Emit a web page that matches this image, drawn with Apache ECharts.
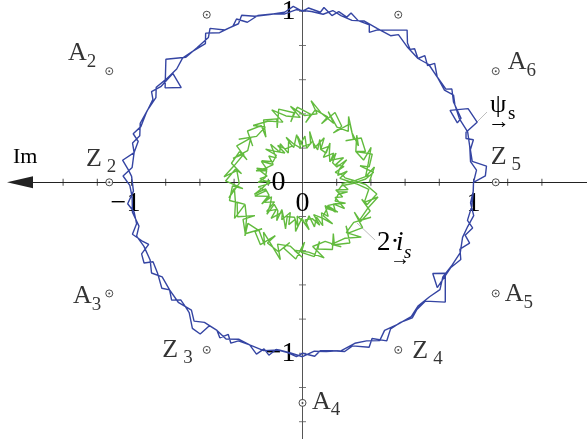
<!DOCTYPE html>
<html>
<head>
<meta charset="utf-8">
<script src="https://cdn.jsdelivr.net/npm/echarts@6/dist/echarts.min.js"></script>
<style>
  html, body { margin: 0; padding: 0; background: #fff; }
  #chart { width: 587px; height: 439px; }
</style>
</head>
<body>
<div id="chart"></div>
<script>
// ---- data -------------------------------------------------------------
// tick marks on the real / imaginary axes (per-unit)
const xTicks = [-1.4, -1.2, -1.0, -0.8, -0.6, -0.4, -0.2, 0.2, 0.4, 0.6, 0.8, 1.0, 1.2, 1.4];
const yTicks = [-1.4, -1.2, -1.0, -0.8, -0.6, -0.4, -0.2, 0.2, 0.4, 0.6, 0.8, 1.0];
const xLabelValues = [-1, 0, 1];
const yLabelValues = [-1, 0, 1];

// sector boundary points Z and sector centre points A (x, y in p.u.)
const zPoints = [[1.13, 0], [0.56, 0.98], [-0.56, 0.98], [-1.13, 0], [-0.56, -0.98], [0.56, -0.98]];
const zNames  = ['Z5', '', '', 'Z2', 'Z3', 'Z4'];
const aPoints = [[1.13, 0.65], [-1.13, 0.65], [-1.13, -0.65], [0, -1.29], [1.13, -0.65]];
const aNames  = ['A6', 'A2', 'A3', 'A4', 'A5'];

// stator flux trajectory, [radius p.u., angle deg]
const fluxPath = [
  [1.00,0],[1.02,4],[0.99,7],[1.00,12],[1.01,17],[0.99,22],[1.00,27],[1.02,30],[0.99,33],[1.00,38],
  [1.01,43],[0.99,47],[1.00,52],[1.03,57],[1.00,59],[1.00,64],[1.01,69],[0.99,73],[1.00,77],[1.02,80],
  [0.99,83],[1.00,87],[1.01,92],[0.99,96],[1.00,100],[1.01,105],[0.99,109],[1.03,112],[1.00,114],[1.00,119],
  [1.04,123],[0.99,125],[1.00,130],[1.01,134],[0.99,138],[1.00,143],[1.02,147],[0.99,150],[1.00,155],[1.01,160],
  [0.99,164],[1.02,167],[1.00,170],[1.00,175],[1.05,178],[1.01,181],[1.00,185],[1.01,190],[0.99,195],[1.02,198],
  [1.00,202],[1.00,207],[1.03,211],[0.99,214],[1.00,219],[1.01,224],[0.99,229],[1.03,232],[1.00,235],[1.00,240],
  [1.02,244],[0.99,248],[1.00,252],[1.01,257],[0.99,262],[1.00,266],[1.02,270],[0.99,274],[1.00,278],[1.01,283],
  [0.99,288],[1.00,292],[1.03,296],[0.99,299],[1.00,304],[1.01,309],[0.99,313],[1.00,318],[1.02,322],[0.99,326],
  [1.00,331],[1.01,336],[0.99,341],[1.00,345],[1.02,349],[0.99,353],[1.00,357],
  [1.00,0],[1.07,2],[1.08,5],[1.00,7],[1.00,11],[1.03,14],[0.99,15],[1.00,17],[1.08,19],[1.06,24],
  [0.96,26],[0.97,21],[1.00,22],[1.00,28],[1.03,32],[1.00,33],[1.00,38],[1.04,42],[1.00,43],[1.03,46],
  [0.99,47],[1.02,50],[1.00,51],[1.02,53],[1.08,55.5],[0.99,64],[0.96,66],[1.00,67],[1.00,71],[1.03,74],
  [1.00,75],[1.02,78],[0.99,80],[1.03,83],[1.00,84],[1.02,88],[1.00,90],[1.03,93],[1.00,96],[1.00,101],
  [1.01,106],[1.04,110],[1.00,112],[1.00,117],[1.05,121],[1.01,123],[1.00,128],[1.00,133],[1.075,138],[0.975,145.5],
  [0.90,142],[0.99,140],[1.00,146],[1.03,149],[1.00,151],[1.00,156],[1.00,161],[1.03,164],[0.99,166],[1.00,170],
  [1.06,173],[1.02,176],[1.00,178],[0.99,183],[1.03,187],[1.00,190],[1.00,194],[1.04,197],[1.00,200],[0.97,202],
  [1.03,204],[1.04,207],[0.99,208],[1.00,212],[1.03,217],[1.00,219],[1.03,222],[0.99,224],[1.00,227],[1.01,229],
  [1.07,233],[1.07,236],[1.00,237],[1.00,240],[1.03,242],[0.99,244],[1.03,246],[1.00,248],[1.00,252],[1.04,255],
  [1.00,257],[1.03,259],[0.99,261],[1.00,265],[1.02,268],[1.00,270],[1.02,274],[0.99,276],[1.00,280],[1.02,284],
  [1.00,287],[1.04,292],[1.00,294],[1.05,298],[1.00,301],[1.00,305],[1.02,309],[1.00,312],[1.00,316],[1.09,320],
  [0.99,327.5],[0.93,325],[1.00,322],[1.00,330],[1.03,334],[1.00,337],[1.04,340],[1.00,342],[1.03,345],[0.99,347],
  [1.00,352],[1.00,356],[1.00,360]
];

// stator current trajectory (scaled x2), [radius p.u., angle deg]
const currentPath = [
  [0.39,0],[0.43,12],[0.37,5],[0.40,16],[0.45,27],[0.38,20],[0.36,30],[0.42,41],[0.39,33],[0.41,45],
  [0.47,55],[0.40,48],[0.38,58],[0.44,70],[0.39,62],[0.42,75],[0.48,84],[0.41,78],[0.39,88],[0.45,99],
  [0.38,92],[0.40,104],[0.46,113],[0.37,108],[0.41,119],[0.44,131],[0.39,124],[0.38,135],[0.45,146],[0.40,139],
  [0.37,150],[0.43,161],[0.38,154],[0.41,166],[0.46,176],[0.39,170],[0.37,181],[0.44,192],[0.40,185],[0.41,197],
  [0.45,208],[0.36,201],[0.39,213],[0.46,223],[0.40,217],[0.38,228],[0.43,239],[0.37,232],[0.41,244],[0.47,254],
  [0.39,248],[0.38,259],[0.44,270],[0.40,263],[0.41,275],[0.46,286],[0.38,279],[0.37,291],[0.44,301],[0.40,295],
  [0.41,307],[0.47,317],[0.39,311],[0.38,322],[0.45,333],[0.40,326],[0.41,338],[0.45,349],[0.38,342],[0.39,354],
  [0.32,358],[0.26,2],
  [0.22,6],[0.27,14],[0.21,11],[0.23,20],[0.29,27],[0.22,24],[0.21,33],[0.26,41],[0.20,37],[0.23,47],
  [0.28,55],[0.22,51],[0.22,61],[0.27,68],[0.21,65],[0.24,75],[0.30,82],[0.23,78],[0.21,89],[0.27,96],
  [0.20,93],[0.23,103],[0.28,110],[0.22,106],[0.22,117],[0.26,124],[0.20,121],[0.24,131],[0.29,138],[0.22,134],
  [0.21,145],[0.27,152],[0.20,149],[0.23,159],[0.28,166],[0.22,162],[0.22,173],[0.26,180],[0.19,177],[0.23,187],
  [0.29,194],[0.22,190],[0.21,201],[0.27,208],[0.20,205],[0.23,215],[0.28,222],[0.21,218],[0.22,229],[0.27,236],
  [0.20,233],[0.24,243],[0.29,250],[0.22,246],[0.21,257],[0.26,264],[0.20,261],[0.23,271],[0.28,278],[0.22,274],
  [0.22,285],[0.27,292],[0.20,289],[0.24,299],[0.30,306],[0.23,302],[0.21,313],[0.27,320],[0.20,317],[0.23,327],
  [0.28,334],[0.22,330],[0.22,341],[0.27,348],[0.21,345],[0.23,355],
  [0.30,359],[0.37,3],
  [0.42,8],[0.35,16],[0.40,13],[0.44,22],[0.36,30],[0.41,26],[0.43,37],[0.35,44],[0.39,40],[0.44,51],
  [0.34,58],[0.40,55],[0.45,65],[0.36,72],[0.41,69],[0.43,80],[0.35,87],[0.40,83],[0.44,94],[0.36,101],
  [0.41,97],[0.45,108],[0.35,115],[0.40,112],[0.43,122],[0.34,129],[0.41,126],[0.44,137],[0.36,144],[0.40,140],
  [0.44,151],[0.35,158],[0.41,154],[0.43,165],[0.36,172],[0.40,169],[0.45,179],[0.35,186],[0.41,183],[0.44,194],
  [0.36,201],[0.40,197],[0.43,208],[0.34,215],[0.41,212],[0.45,222],[0.36,229],[0.40,226],[0.44,236],[0.35,243],
  [0.41,240],[0.43,251],[0.36,258],[0.40,254],[0.45,265],[0.35,272],[0.41,269],[0.44,279],[0.36,286],[0.40,283],
  [0.43,294],[0.35,301],[0.41,297],[0.45,308],[0.36,315],[0.40,312],[0.44,323],[0.35,330],[0.41,326],[0.43,337],
  [0.36,344],[0.40,341],[0.44,351],[0.37,358],
  [0.30,2],[0.25,6],
  [0.24,10],[0.20,17],[0.26,21],[0.22,28],[0.28,31],[0.21,38],[0.25,43],[0.19,50],[0.26,54],[0.22,61],
  [0.29,64],[0.21,71],[0.25,76],[0.20,83],[0.27,87],[0.22,94],[0.28,97],[0.21,104],[0.25,109],[0.19,116],
  [0.26,120],[0.22,127],[0.29,130],[0.21,137],[0.25,142],[0.20,149],[0.27,153],[0.22,160],[0.28,163],[0.21,170],
  [0.25,175],[0.19,182],[0.26,186],[0.22,193],[0.29,196],[0.21,203],[0.25,208],[0.20,215],[0.27,219],[0.22,226],
  [0.28,229],[0.21,236],[0.25,241],[0.19,248],[0.26,252],[0.22,259],[0.29,262],[0.21,269],[0.25,274],[0.20,281],
  [0.27,285],[0.22,292],[0.28,295],[0.21,302],[0.25,307],[0.19,314],[0.26,318],[0.22,325],[0.29,328],[0.21,335],
  [0.25,340],[0.20,347],[0.27,351],[0.23,358],
  [0.31,2],[0.39,6]
];

// ---- layout -----------------------------------------------------------
const W = 587, H = 439;
const OX = 302.5, OY = 182.3;   // pixel position of the origin
const UNIT = 171;               // pixels per p.u.
const GRID_LEFT = 20;           // left end of the real axis (arrow centre)
const FONT = '"Liberation Serif", "Times New Roman", serif';
const INK = '#000';

// label placement for the Z / A points: [dx, dy, align]
const pointLabelPlacement = {
  A2: [-13, -12.5, 'right'], A6: [12, -4, 'left'],
  Z2: [7, -18.5, 'right'],   Z5: [-5, -20.5, 'left'],
  A3: [-8, 8, 'right'],      A5: [9, 6, 'left'],
  Z3: [-14, 5, 'right'],     Z4: [14, 6, 'left'],
  A4: [9.5, 4, 'left']
};

const richLabel = {
  m:  { fontFamily: FONT, fontSize: 26, lineHeight: 26, color: INK, verticalAlign: 'bottom', padding: [0, 0, 5, 0] },
  s:  { fontFamily: FONT, fontSize: 19, lineHeight: 19, color: INK, verticalAlign: 'bottom' },
  sz: { fontFamily: FONT, fontSize: 19, lineHeight: 19, color: INK, verticalAlign: 'bottom', padding: [0, 0, 0, 5] }
};

function pointItems(points, names) {
  return points.map((p, i) => {
    const name = names[i];
    const item = { value: p };
    if (name) {
      const pl = pointLabelPlacement[name];
      const letter = name.charAt(0), idx = name.slice(1);
      item.label = {
        show: true,
        position: 'inside',
        align: pl[2],
        verticalAlign: 'middle',
        offset: [pl[0], pl[1]],
        formatter: '{m|' + letter + '}{' + (letter === 'Z' ? 'sz' : 's') + '|' + idx + '}',
        rich: richLabel
      };
    }
    return item;
  });
}

const chart = echarts.init(document.getElementById('chart'), null, { renderer: 'canvas' });

const axisFontStyle = { fontFamily: FONT, fontSize: 28, color: INK };

chart.setOption({
  animation: false,
  backgroundColor: '#fff',
  grid: {
    left: GRID_LEFT, right: 0, top: 0, bottom: 0,
    outerBoundsMode: 'none'
  },
  xAxis: {
    type: 'value',
    position: 'bottom',
    offset: -(H - OY),          // real axis runs through the origin
    min: -(OX - GRID_LEFT) / UNIT,
    max: (W - OX) / UNIT,
    splitLine: { show: false },
    axisTick: { show: false },
    axisLine: {
      onZero: false,
      symbol: ['triangle', 'none'],
      symbolSize: [12, 26],
      lineStyle: { color: '#222', width: 1 }
    },
    axisLabel: {
      customValues: xLabelValues,
      margin: 7,
      ...axisFontStyle,
      formatter: v => v === 0 ? '0' : (v > 0 ? '1' : '{n|\u22121}'),
      rich: { n: { ...axisFontStyle, padding: [0, 12, 0, 0] } }
    }
  },
  yAxis: {
    type: 'value',
    position: 'left',
    offset: -(OX - GRID_LEFT),  // imaginary axis runs through the origin
    min: -(H - OY) / UNIT,
    max: OY / UNIT,
    splitLine: { show: false },
    axisTick: { show: false },
    axisLine: { onZero: false, lineStyle: { color: '#555', width: 1 } },
    axisLabel: {
      customValues: yLabelValues,
      margin: 7,
      ...axisFontStyle,
      formatter: v => v === 0 ? '{z|0}' : (v > 0 ? '1' : '\u22121'),
      rich: { z: { ...axisFontStyle, padding: [0, 10, 0, 0] } }
    }
  },
  polar: { center: [OX, OY], radius: 1.5 * UNIT },
  angleAxis: { type: 'value', min: 0, max: 360, startAngle: 0, clockwise: false, show: false },
  radiusAxis: { type: 'value', min: 0, max: 1.5, show: false },
  series: [
    {
      name: 'ticksX', type: 'scatter', silent: true,
      data: xTicks.map(v => [v, 0]),
      symbol: 'rect', symbolSize: [1, 7],
      itemStyle: { color: '#222' }
    },
    {
      name: 'ticksY', type: 'scatter', silent: true,
      data: yTicks.map(v => [0, v]),
      symbol: 'rect', symbolSize: [7, 1],
      itemStyle: { color: '#555' }
    },
    {
      name: '2i_s', type: 'line', coordinateSystem: 'polar', silent: true,
      data: currentPath, symbol: 'none', smooth: false,
      lineStyle: { color: '#62bb3e', width: 1.4 }
    },
    {
      name: 'psi_s', type: 'line', coordinateSystem: 'polar', silent: true,
      data: fluxPath, symbol: 'none', smooth: false,
      lineStyle: { color: '#3545a3', width: 1.4 }
    },
    {
      name: 'Z', type: 'scatter', silent: true,
      data: pointItems(zPoints, zNames),
      symbol: 'circle', symbolSize: 7,
      itemStyle: { color: '#fff', borderColor: '#222', borderWidth: 1 }
    },
    {
      name: 'A', type: 'scatter', silent: true,
      data: pointItems(aPoints, aNames),
      symbol: 'circle', symbolSize: 7,
      itemStyle: { color: '#fff', borderColor: '#222', borderWidth: 1 }
    },
    {
      name: 'dots', type: 'scatter', silent: true,
      data: zPoints.concat(aPoints),
      symbol: 'circle', symbolSize: 2,
      itemStyle: { color: '#222' }
    }
  ],
  graphic: [
    { type: 'text', x: 13, y: 157.5, style: { text: 'Im', font: '22px ' + FONT, fill: INK, verticalAlign: 'middle' } },
    // flux vector label
    { type: 'line', shape: { x1: 477, y1: 122, x2: 487, y2: 112 }, style: { stroke: '#bdbdbd', lineWidth: 1 } },
    { type: 'text', x: 490, y: 105, style: { text: '\u03c8', font: '26px ' + FONT, fill: INK, verticalAlign: 'middle' } },
    { type: 'text', x: 508, y: 114, style: { text: 's', font: '19px ' + FONT, fill: INK, verticalAlign: 'middle' } },
    { type: 'text', x: 499, y: 122, style: { text: '\u2192', font: '22px ' + FONT, fill: INK, align: 'center', verticalAlign: 'middle' } },
    // current vector label
    { type: 'line', shape: { x1: 357, y1: 223, x2: 375, y2: 240 }, style: { stroke: '#bdbdbd', lineWidth: 1 } },
    { type: 'text', x: 377, y: 243, style: { text: '2\u00b7', font: '27px ' + FONT, fill: INK, verticalAlign: 'middle' } },
    { type: 'text', x: 396, y: 243, style: { text: 'i', font: 'italic 27px ' + FONT, fill: INK, verticalAlign: 'middle' } },
    { type: 'text', x: 404, y: 253, style: { text: 's', font: 'italic 19px ' + FONT, fill: INK, verticalAlign: 'middle' } },
    { type: 'text', x: 400, y: 260, style: { text: '\u2192', font: '20px ' + FONT, fill: INK, align: 'center', verticalAlign: 'middle' } }
  ]
});
</script>
</body>
</html>
